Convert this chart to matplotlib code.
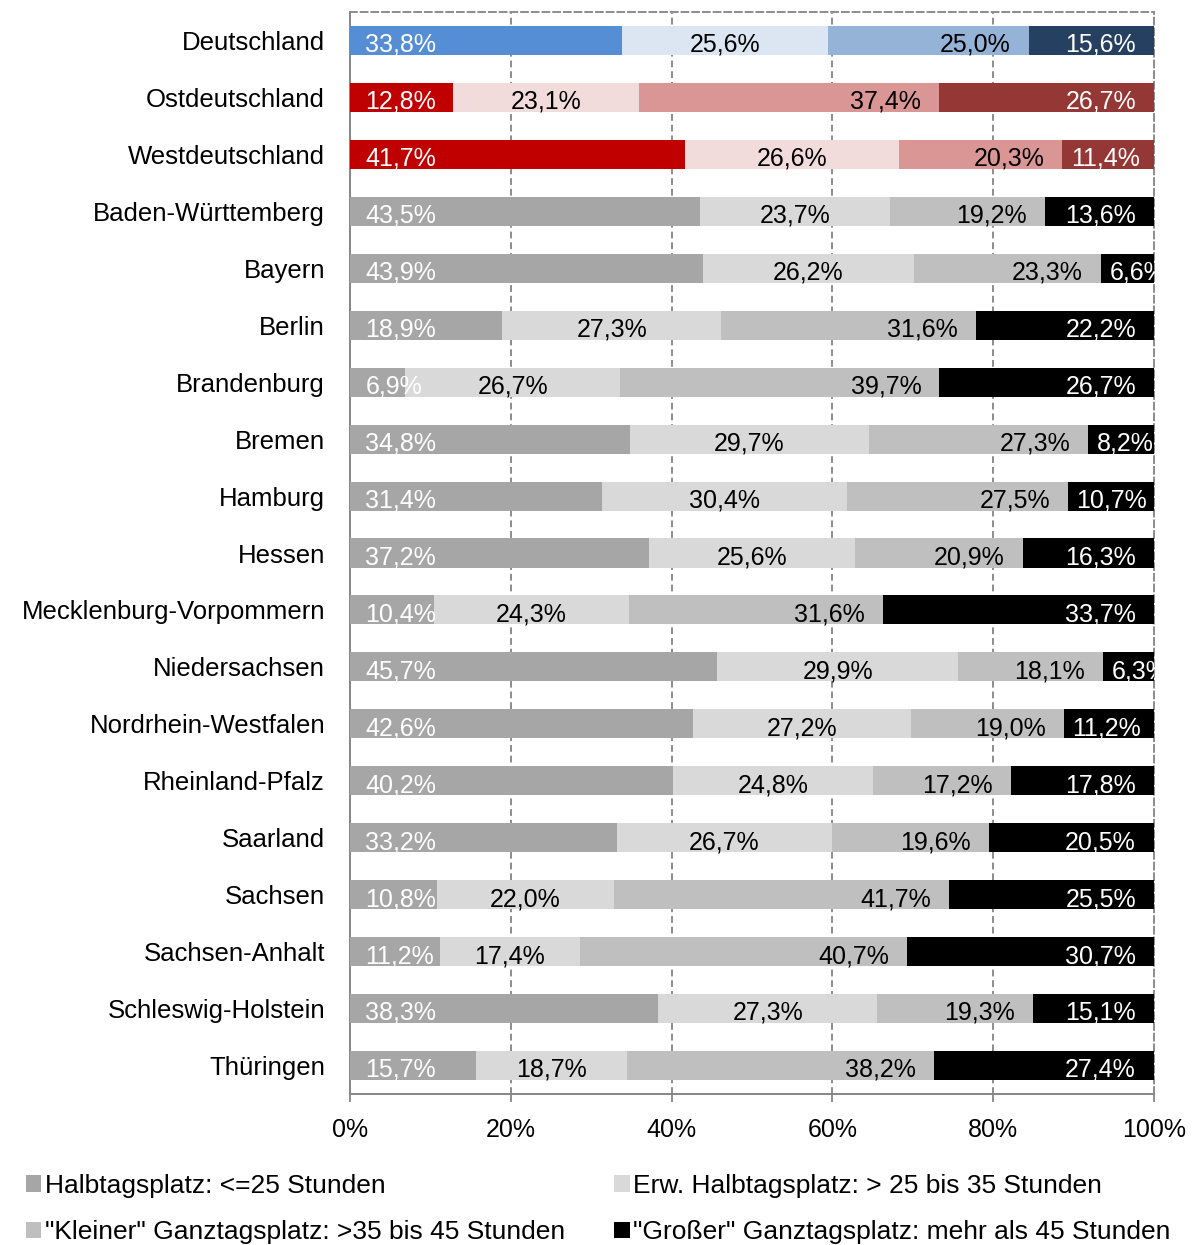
import matplotlib
matplotlib.use("Agg")
import matplotlib.pyplot as plt
from matplotlib.patches import Patch
from matplotlib.transforms import ScaledTranslation
import numpy as np

plt.rcParams['font.family'] = ['Liberation Sans', 'DejaVu Sans']

regions = ["Deutschland", "Ostdeutschland", "Westdeutschland", "Baden-Württemberg",
           "Bayern", "Berlin", "Brandenburg", "Bremen", "Hamburg", "Hessen",
           "Mecklenburg-Vorpommern", "Niedersachsen", "Nordrhein-Westfalen",
           "Rheinland-Pfalz", "Saarland", "Sachsen", "Sachsen-Anhalt",
           "Schleswig-Holstein", "Thüringen"]

halbtag = [33.8, 12.8, 41.7, 43.5, 43.9, 18.9, 6.9, 34.8, 31.4, 37.2,
           10.4, 45.7, 42.6, 40.2, 33.2, 10.8, 11.2, 38.3, 15.7]
erw_halbtag = [25.6, 23.1, 26.6, 23.7, 26.2, 27.3, 26.7, 29.7, 30.4, 25.6,
               24.3, 29.9, 27.2, 24.8, 26.7, 22.0, 17.4, 27.3, 18.7]
kleiner_ganztag = [25.0, 37.4, 20.3, 19.2, 23.3, 31.6, 39.7, 27.3, 27.5, 20.9,
                   31.6, 18.1, 19.0, 17.2, 19.6, 41.7, 40.7, 19.3, 38.2]
grosser_ganztag = [15.6, 26.7, 11.4, 13.6, 6.6, 22.2, 26.7, 8.2, 10.7, 16.3,
                   33.7, 6.3, 11.2, 17.8, 20.5, 25.5, 30.7, 15.1, 27.4]

series_labels = ["Halbtagsplatz: <=25 Stunden",
                 "Erw. Halbtagsplatz: > 25 bis 35 Stunden",
                 "\"Kleiner\" Ganztagsplatz: >35 bis 45 Stunden",
                 "\"Großer\" Ganztagsplatz: mehr als 45 Stunden"]

# colour sets: Germany (blue), East/West (red), federal states (grey)
blue_set = ["#558ED5", "#DCE6F2", "#95B3D7", "#254061"]
red_set = ["#C00000", "#F2DCDB", "#D99694", "#953735"]
grey_set = ["#A6A6A6", "#D9D9D9", "#BFBFBF", "#000000"]
label_colors = ["white", "black", "black", "white"]

row_colors = [blue_set, red_set, red_set] + [grey_set] * (len(regions) - 3)

fig = plt.figure(figsize=(11.95, 12.45), dpi=100)
ax = fig.add_axes([350 / 1195, 1 - 1094 / 1245, 804 / 1195, 1082 / 1245])

data = np.array([halbtag, erw_halbtag, kleiner_ganztag, grosser_ganztag])
ypos = np.arange(len(regions))
lefts = np.zeros(len(regions))
bar_h = 0.51
FS = 18

texts = []
for s in range(4):
    vals = data[s]
    cols = [row_colors[i][s] for i in range(len(regions))]
    ax.barh(ypos, vals, left=lefts, height=bar_h, color=cols, edgecolor='none', zorder=3)
    for i, v in enumerate(vals):
        lab = f"{v:.1f}%".replace(".", ",")
        ybase = ypos[i] + 0.2
        if s == 0:
            x, ha, dx = lefts[i], 'left', 11
        elif s == 1:
            x, ha, dx = lefts[i] + v / 2, 'center', 0
        else:
            x, ha, dx = lefts[i] + v, 'right', -13
        tr = ax.transData + ScaledTranslation(dx / 72, 0, fig.dpi_scale_trans)
        t = ax.text(x, ybase, lab, ha=ha, va='baseline', fontsize=FS,
                    color=label_colors[s], transform=tr, zorder=5, clip_on=True)
        texts.append((s, i, lefts[i], v, t))
    lefts = lefts + vals

# narrow last segments: start the label at the segment's left edge instead
fig.canvas.draw()
renderer = fig.canvas.get_renderer()
for s, i, left, v, t in texts:
    if s != 3:
        continue
    bb = t.get_window_extent(renderer)
    seg_left_px = ax.transData.transform((left, 0))[0]
    if bb.x0 < seg_left_px + 4:
        t.set_ha('left')
        t.set_x(left)
        t.set_transform(ax.transData + ScaledTranslation(6 / 72, 0, fig.dpi_scale_trans))

ax.set_xlim(0, 100)
ax.set_ylim(len(regions) - 0.5, -0.5)
ax.set_yticks(ypos)
ax.set_yticklabels(regions, fontsize=FS + 0.5)
ax.tick_params(axis='y', length=0, pad=18)
ax.set_xticks([0, 20, 40, 60, 80, 100])
ax.set_xticklabels(["0%", "20%", "40%", "60%", "80%", "100%"], fontsize=FS)
ax.tick_params(axis='x', direction='out', length=6, width=1.3, color='#868686', pad=11)

grid_c = '#8C8C8C'
for xv in [20, 40, 60, 80]:
    ax.axvline(xv, color=grid_c, lw=1.4, ls=(0, (3.5, 2)), zorder=1)
for side in ['top', 'right']:
    ax.spines[side].set_color(grid_c)
    ax.spines[side].set_linewidth(1.4)
    ax.spines[side].set_linestyle((0, (3.5, 2)))
for side in ['left', 'bottom']:
    ax.spines[side].set_color('#868686')
    ax.spines[side].set_linewidth(1.4)

handles = [Patch(facecolor=grey_set[k], edgecolor='none', label=series_labels[k])
           for k in range(4)]
order = [0, 2, 1, 3]
fig.legend([handles[k] for k in order], [series_labels[k] for k in order],
           ncol=2, loc='upper left', bbox_to_anchor=(26 / 1195, 1 - 1174 / 1245),
           frameon=False, fontsize=19, handlelength=0.58, handleheight=0.58,
           handletextpad=0.15, columnspacing=1.85, labelspacing=0.85,
           borderaxespad=0, borderpad=0)

fig.savefig("out.png", dpi=100)
